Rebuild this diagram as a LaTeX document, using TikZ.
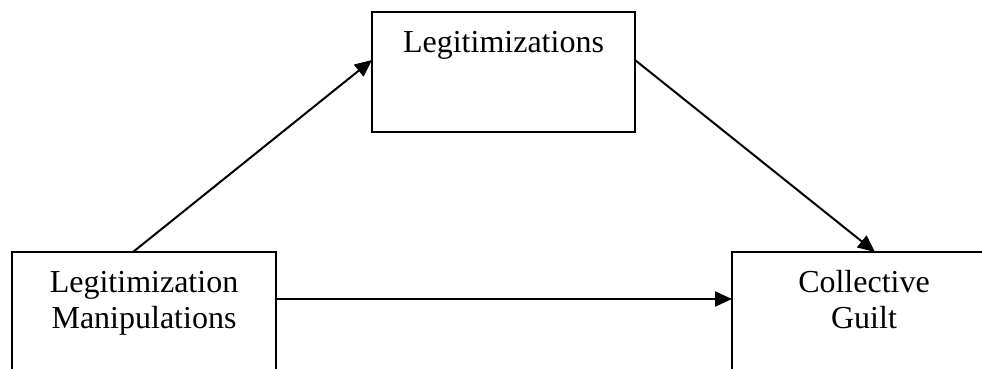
\documentclass[tikz,border=0pt]{standalone}
\usepackage{fontspec}
\setmainfont{Liberation Serif}
\usetikzlibrary{arrows.meta,calc}
\tikzset{
  boxnode/.style={draw, line width=2.2pt, inner sep=0pt, outer sep=0pt},
  labeltext/.style={anchor=north, align=center, inner sep=0pt, font=\fontsize{32}{36}\selectfont},
  conn/.style={line width=2pt, -{Triangle[length=17pt,width=15pt]}}
}
\begin{document}
\begin{tikzpicture}[x=1pt,y=-1pt]
\useasboundingbox (0,0) rectangle (982,369);
\clip (0,0) rectangle (982,369);
\node[boxnode, minimum width=264pt, minimum height=160pt] (lb) at (144,332) {};
\node[boxnode, minimum width=264pt, minimum height=160pt] (rb) at (864,332) {};
\node[boxnode, minimum width=263pt, minimum height=120pt] (tb) at (503.5,72) {};
\node[labeltext] (lbt) at (144,271) {Legitimization\\Manipulations};
\node[labeltext] (rbt) at (864,270) {Collective\\Guilt};
\node[labeltext] (tbt) at (503.5,31) {Legitimizations};
\coordinate (a1s) at ($(lb.north west)+(121,0)$);
\coordinate (a1e) at ($(tb.west)+(0,-12)$);
\coordinate (a2s) at ($(tb.east)+(0,-12)$);
\coordinate (a2e) at ($(rb.north west)+(143,0)$);
\coordinate (a3s) at ($(lb.north east)+(0,47)$);
\coordinate (a3e) at ($(rb.north west)+(0,47)$);
\draw[conn] (a1s) -- (a1e);
\draw[conn] (a2s) -- (a2e);
\draw[conn] (a3s) -- (a3e);
\end{tikzpicture}
\end{document}
